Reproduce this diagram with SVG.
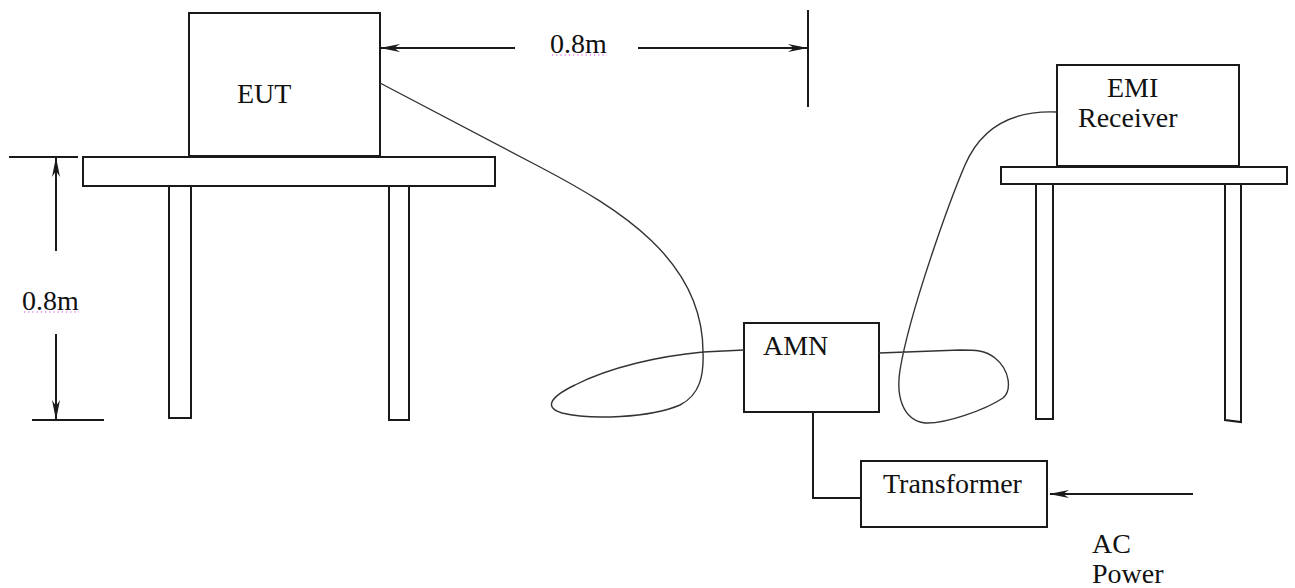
<svg xmlns="http://www.w3.org/2000/svg" width="1295" height="588" viewBox="0 0 1295 588">
<style>
  .box{fill:#fff;stroke:#1a1a1a;stroke-width:2}
  .ln{fill:none;stroke:#1a1a1a;stroke-width:2}
  .cable{fill:none;stroke:#333;stroke-width:1.4}
  .dim{fill:none;stroke:#1a1a1a;stroke-width:2}
  .arr{fill:none;stroke:#1a1a1a;stroke-width:2;marker-end:url(#ah)}
  .t{font-family:"Liberation Serif","Times New Roman",serif;font-size:28px;fill:#111}
  .sq{fill:none;stroke:#d23cd2;stroke-width:1.2;stroke-dasharray:1.2 3}
</style>
<defs>
  <marker id="ah" viewBox="-20 -5 22 10" refX="0" refY="0" markerWidth="22" markerHeight="10" markerUnits="userSpaceOnUse" orient="auto">
    <path d="M1,0 L-19,-4 L-13,0 L-19,4 Z" fill="#1a1a1a"/>
  </marker>
</defs>
<rect width="1295" height="588" fill="#fff"/>

<g id="eut-table">
  <rect class="box" x="169" y="186" width="22" height="232"/>
  <rect class="box" x="389" y="186" width="20" height="234"/>
  <rect class="box" x="83" y="157" width="412" height="29"/>
</g>
<g id="eut">
  <rect class="box" x="189" y="13" width="191" height="143"/>
  <text class="t" x="237" y="103">EUT</text>
</g>

<g id="emi-table">
  <path class="box" d="M1036,184 V419 H1053 V184"/>
  <path class="box" d="M1225,184 V420 L1241,422 V184"/>
  <rect class="box" x="1001" y="167" width="286" height="17"/>
</g>
<g id="emi-receiver">
  <rect class="box" x="1057" y="65" width="182" height="101"/>
  <text class="t" x="1107" y="97">EMI</text>
  <text class="t" x="1078" y="127">Receiver</text>
</g>

<g id="amn">
  <rect class="box" x="744" y="323" width="135" height="89"/>
  <text class="t" x="763" y="355">AMN</text>
</g>

<g id="transformer">
  <rect class="box" x="861" y="461" width="186" height="66"/>
  <text class="t" x="883" y="493">Transformer</text>
</g>

<g id="ac-power">
  <text class="t" x="1092" y="553">AC</text>
  <text class="t" x="1092" y="583">Power</text>
</g>

<g id="dimensions">
  <line class="arr" x1="515" y1="48" x2="381" y2="48"/>
  <line class="arr" x1="638" y1="48" x2="807" y2="48"/>
  <line class="dim" x1="808" y1="10" x2="808" y2="107"/>
  <text class="t" x="550" y="53">0.8m</text>
  <line class="sq" x1="552" y1="55" x2="607" y2="55"/>
  <line class="dim" x1="9" y1="157" x2="78" y2="157"/>
  <line class="dim" x1="32" y1="420" x2="104" y2="420"/>
  <line class="arr" x1="56" y1="251" x2="56" y2="158"/>
  <line class="arr" x1="56" y1="334" x2="56" y2="419"/>
  <text class="t" x="22" y="310">0.8m</text>
  <line class="sq" x1="24" y1="312" x2="79" y2="312"/>
</g>

<g id="connectors">
  <path class="cable" d="M380,83 L540,167 C620,209 703,260 703,352 C704,375 700,395 680,405 C650,418 590,420 562,413 C545,408 548,398 575,385 C610,367 660,356 703,352 L744,350"/>
  <path class="cable" d="M1057,112 C1010,110 980,130 965,165 C950,200 910,310 900,370 C896,395 902,420 925,423 C945,424 985,410 1003,398 C1012,390 1010,370 995,358 C985,350 975,350 960,350 L879,353"/>
  <path class="ln" d="M813,412 V498 H861"/>
  <line class="arr" x1="1193" y1="494" x2="1050" y2="494"/>
</g>
</svg>
